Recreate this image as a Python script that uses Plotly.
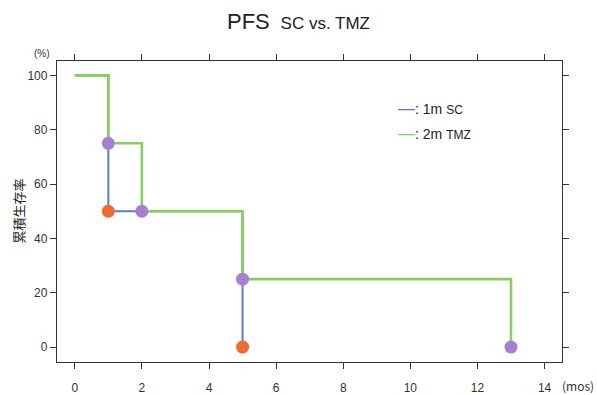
import plotly.graph_objects as go

# Data
sc_months = [0, 1, 5]
sc_surv = [100, 50, 0]
sc_event_months = [1, 5]
sc_event_surv = [50, 0]

tmz_months = [0, 1, 2, 5, 13]
tmz_surv = [100, 75, 50, 25, 0]
tmz_event_months = [1, 2, 5, 13]
tmz_event_surv = [75, 50, 25, 0]

x_ticks = [0, 2, 4, 6, 8, 10, 12, 14]
y_ticks = [0, 20, 40, 60, 80, 100]

BLUE = "#5a7ec6"
GREEN = "#84d257"
ORANGE = "#f26a2e"
PURPLE = "#a67fd2"

font_main = "Liberation Sans, Arial, Noto Sans CJK JP, sans-serif"

fig = go.Figure()
fig.add_trace(go.Scatter(x=sc_months, y=sc_surv, mode="lines", line=dict(color=BLUE, width=2, shape="hv"),
                         name="1m SC", showlegend=False, hoverinfo="skip"))
fig.add_trace(go.Scatter(x=tmz_months, y=tmz_surv, mode="lines", line=dict(color=GREEN, width=2.6, shape="hv"),
                         name="2m TMZ", showlegend=False, hoverinfo="skip"))
fig.add_trace(go.Scatter(x=sc_event_months, y=sc_event_surv, mode="markers",
                         marker=dict(color=ORANGE, size=13, line=dict(width=0)), showlegend=False))
fig.add_trace(go.Scatter(x=tmz_event_months, y=tmz_event_surv, mode="markers",
                         marker=dict(color=PURPLE, size=13, line=dict(width=0)), showlegend=False))

axis_common = dict(showline=True, linecolor="#333333", linewidth=1.3, mirror="ticks",
                   ticks="outside", tickcolor="#333333", ticklen=6, tickwidth=1,
                   showgrid=False, zeroline=False, automargin=False,
                   tickfont=dict(family=font_main, size=12, color="#333333"))

fig.update_layout(
    width=597, height=395,
    margin=dict(l=57, r=35, t=61, b=33),
    paper_bgcolor="white", plot_bgcolor="white",
    title=dict(text="PFS <span style='font-size:17px'> SC vs. TMZ</span>",
               x=0.5, xanchor="center", y=0.945, yanchor="middle",
               font=dict(family=font_main, size=22, color="#222222")),
    xaxis=dict(range=[-0.53, 14.52], tickvals=x_ticks, ticklabelstandoff=8, **axis_common),
    yaxis=dict(range=[-5.5, 105.3], tickvals=y_ticks, **axis_common),
    showlegend=False,
)

fig.add_annotation(text="累積生存率", xref="paper", yref="paper", x=-0.077, y=0.5,
                   textangle=-90, showarrow=False, xanchor="center", yanchor="middle",
                   font=dict(family="Noto Sans CJK JP", size=13, color="#222222"))
fig.add_annotation(text="(%)", xref="paper", yref="paper", x=-0.01, y=1.0,
                   showarrow=False, xanchor="right", yanchor="bottom",
                   font=dict(family=font_main, size=10, color="#333333"))
fig.add_annotation(text="(mos)", xref="paper", yref="paper", x=(596 - 57) / 505, y=-0.077,
                   showarrow=False, xanchor="right", yanchor="middle",
                   font=dict(family="Noto Sans CJK JP", size=12, color="#333333"))

# Legend (as text)
fig.add_annotation(text=f"<span style='color:{BLUE};font-size:17px'>—</span>: 1m <span style='font-size:12px'>SC</span>",
                   xref="paper", yref="paper", x=(396 - 57) / 505, y=(362 - 108) / 301,
                   showarrow=False, xanchor="left", yanchor="middle", font=dict(family=font_main, size=14, color="#222222"))
fig.add_annotation(text=f"<span style='color:{GREEN};font-size:17px'>—</span>: 2m <span style='font-size:12px'>TMZ</span>",
                   xref="paper", yref="paper", x=(396 - 57) / 505, y=(362 - 133) / 301,
                   showarrow=False, xanchor="left", yanchor="middle", font=dict(family=font_main, size=14, color="#222222"))

fig.write_html("out.html", config={"displayModeBar": False},
               post_script="document.body.style.margin='0';document.body.style.overflow='hidden';")
